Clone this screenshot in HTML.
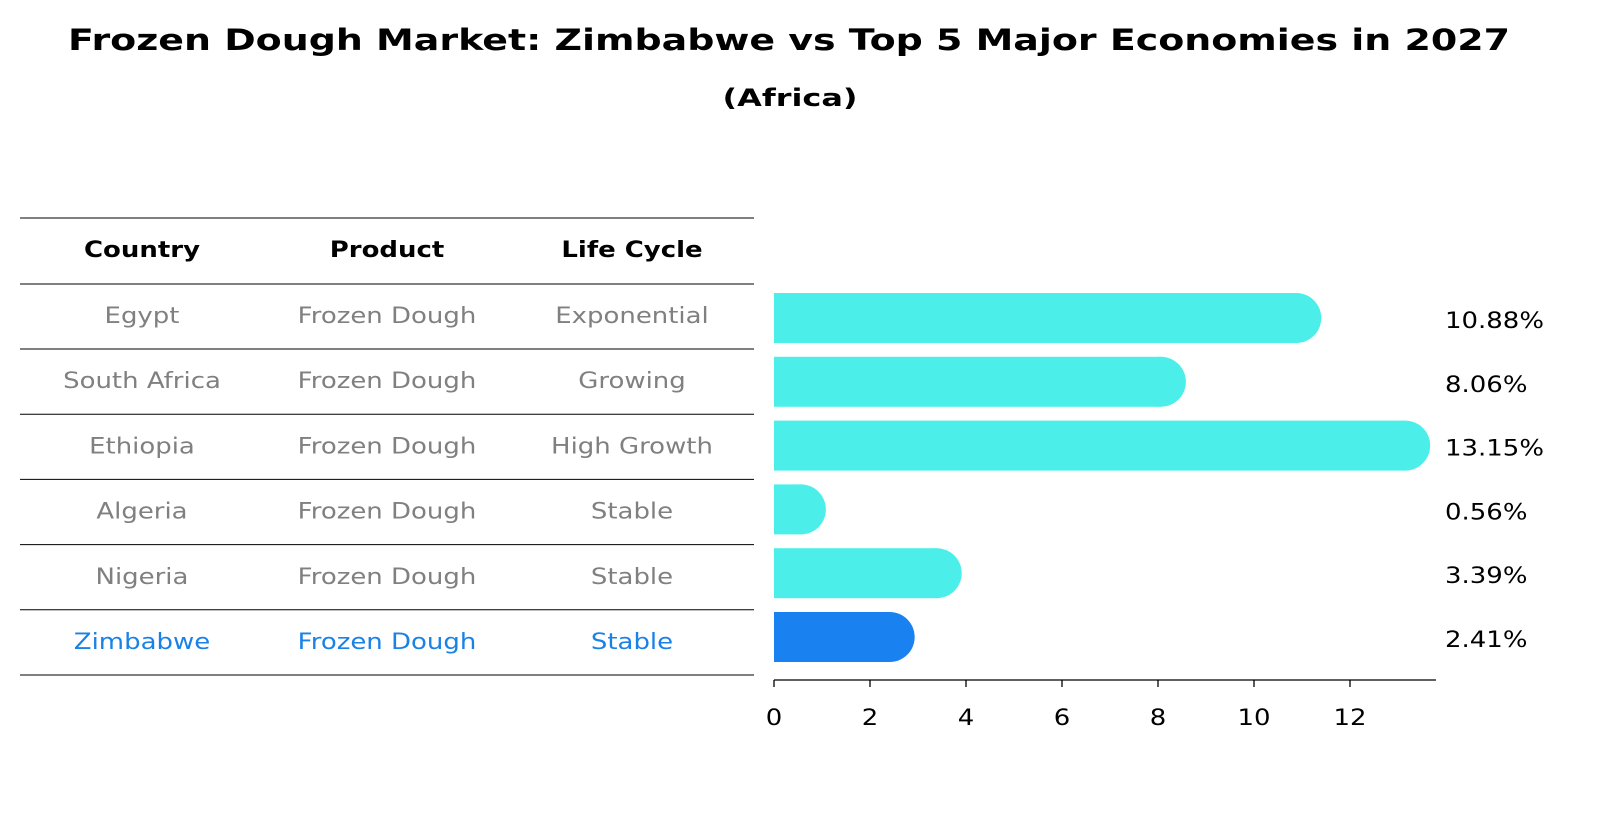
<!DOCTYPE html>
<html><head><meta charset="utf-8"><style>
body{margin:0;background:#fff;font-family:"Liberation Sans","DejaVu Sans",sans-serif;}
svg text{font-family:"DejaVu Sans","Liberation Sans",sans-serif;}
</style></head><body>
<svg width="1604" height="823" xmlns="http://www.w3.org/2000/svg" id="chart">
<text x="789" y="50" text-anchor="middle" font-size="29" font-weight="bold" textLength="1442" lengthAdjust="spacingAndGlyphs">Frozen Dough Market: Zimbabwe vs Top 5 Major Economies in 2027</text>
<text x="790" y="106" text-anchor="middle" font-size="24" font-weight="bold" textLength="135" lengthAdjust="spacingAndGlyphs">(Africa)</text>
<g id="table"></g>
<g id="bars"></g>
<g id="axis"></g>
</svg>
<script>
const countries=["Egypt","South Africa","Ethiopia","Algeria","Nigeria","Zimbabwe"];
const products=["Frozen Dough","Frozen Dough","Frozen Dough","Frozen Dough","Frozen Dough","Frozen Dough"];
const lifeCycles=["Exponential","Growing","High Growth","Stable","Stable","Stable"];
const values=[10.88,8.06,13.15,0.56,3.39,2.41];
const ticks=[0,2,4,6,8,10,12];
const highlight="Zimbabwe";
const NS="http://www.w3.org/2000/svg";
function mk(t,a,p){const e=document.createElementNS(NS,t);for(const k in a)e.setAttribute(k,a[k]);p.appendChild(e);return e;}
function widen(t,f){const w=t.getComputedTextLength();if(w>0){t.setAttribute('textLength',(w*f).toFixed(1));t.setAttribute('lengthAdjust','spacingAndGlyphs');}}
const F=1.18;
const xs=v=>774+v*48;
const rowY=i=>315+i*65.2;
const barY=i=>318+i*63.8;
const tbl=document.getElementById('table');
const cols=[142,387,632];
const lineYs=[218,284];
for(let i=0;i<countries.length;i++)lineYs.push(349+i*65.2);
lineYs.forEach(y=>{const l=mk('line',{x1:20,x2:754,y1:y,y2:y,stroke:'#000','stroke-width':1},tbl);

});
["Country","Product","Life Cycle"].forEach((h,j)=>{const t=mk('text',{x:cols[j],y:257,'text-anchor':'middle','font-size':22,'font-weight':'bold'},tbl);t.textContent=h;


widen(t,F);});
countries.forEach((c,i)=>{const col=c===highlight?'#1a82e6':'#808080';
[c,products[i],lifeCycles[i]].forEach((v,j)=>{const t=mk('text',{x:cols[j],y:rowY(i)+8,'text-anchor':'middle','font-size':22,fill:col},tbl);t.textContent=v;


widen(t,F);});});
const bars=document.getElementById('bars');
values.forEach((v,i)=>{const col=countries[i]===highlight?'#1a82f0':'#4ceeea';const y=barY(i);
const r=mk('rect',{x:xs(0),y:y-25,width:xs(v)-xs(0),height:50,fill:col},bars);


const c=mk('circle',{cx:xs(v),cy:y,r:25,fill:col},bars);


const t=mk('text',{x:1445,y:y+10,'font-size':22},bars);t.textContent=v.toFixed(2)+'%';


widen(t,F);});
const ax=document.getElementById('axis');
const al=mk('line',{x1:774,x2:1436,y1:680,y2:680,stroke:'#000','stroke-width':1.3},ax);


ticks.forEach(v=>{const tl=mk('line',{x1:xs(v),x2:xs(v),y1:680,y2:687,stroke:'#000','stroke-width':1.3},ax);


const t=mk('text',{x:xs(v),y:725,'text-anchor':'middle','font-size':22},ax);t.textContent=v;


widen(t,F);});
</script>
</body></html>
